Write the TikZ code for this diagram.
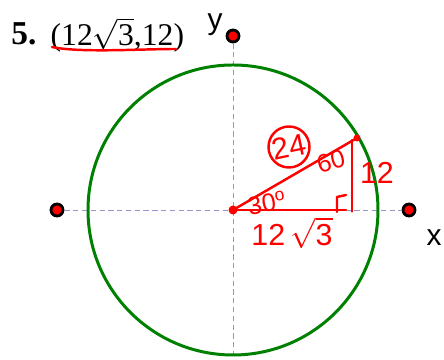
\documentclass[tikz,border=0pt]{standalone}
\usepackage{fontspec}
\setmainfont{Liberation Serif}
\setsansfont{Liberation Sans}
\usepackage{tikz}
\usetikzlibrary{positioning}
\usetikzlibrary{calc}
\definecolor{axisblue}{RGB}{150,150,205}
\definecolor{ringgreen}{RGB}{0,128,0}

\begin{document}
\begin{tikzpicture}[thick,
  axis/.style={densely dashed,line width=.5pt,color=axisblue},
  dot/.style={circle,fill=red,draw=black,line width=1.6pt,inner sep=0pt,minimum size=.24cm},
  ink/.style={red,line width=1.4pt,line cap=round,line join=round},
  inktext/.style={red,font=\sffamily\LARGE,inner sep=1pt}]
\useasboundingbox (0,0) rectangle (8.88,7.2);
\coordinate (O) at (4.66,3.0);
\coordinate (B) at (4.66,0);
\coordinate (P) at (7.14,4.44);
\coordinate (F) at (7.04,2.97);
\coordinate (H) at (6.92,3.0);
% axes
\node[dot] at (1.14,3.0) (Xl) {};
\node[dot] at (8.18,3.0) (Xr) {};
\node[dot] at (4.66,6.48) (Yt) {};
\draw[axis] (Xl) -- (Xr);
\draw[axis] (Yt) -- (B);
\draw[ringgreen,line width=1.7pt] (O) circle (2.9cm);
% labels
\node at (0.48,6.52) (num) {\fontsize{19}{20}\selectfont\bfseries 5.};
\node[anchor=west,inner sep=0pt] at (1.0,6.5) (pt) {\fontsize{18}{20}\selectfont (12$\sqrt{\mbox{3}}$,12)};
\node at (4.3,6.7) (ylab) {\fontsize{17}{20}\selectfont\sffamily y};
\node at (8.68,2.45) (xlab) {\fontsize{17}{20}\selectfont\sffamily x};
% red handwriting
\draw[ink] (1.04,6.26) .. controls (1.6,6.14) and (2.8,6.22) .. (3.52,6.22);
\draw[ink] (O) -- (P);
\draw[ink] (7.04,4.4) -- (F);
\draw[ink] (O) -- (H);
\draw[ink] (6.74,2.96) -- (6.74,3.26) -- (6.92,3.3);
\fill[red] (O) circle (.09cm);
\fill[red] (P) circle (.07cm);
\node[inktext,draw,ink,circle,minimum size=.82cm,inner sep=0pt,rotate=12] at (5.78,4.26) (tot) {24};
\node[inktext,font=\sffamily\Large,rotate=15] at (6.62,3.98) (ang) {60};
\node[inktext,font=\sffamily\Large,rotate=10] at (5.34,3.14) (th) {30$^{\mathsf{o}}$};
\node[inktext] at (7.54,3.74) (opp) {12};
\node[inktext] at (5.84,2.54) (adj) {12\,$\sqrt{\mathsf{3}}$};
\end{tikzpicture}
\end{document}
